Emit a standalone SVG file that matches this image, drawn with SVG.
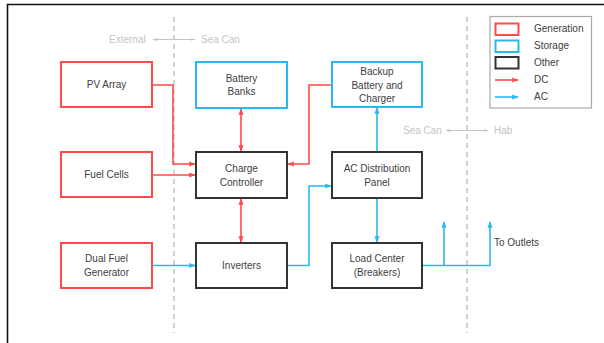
<svg xmlns="http://www.w3.org/2000/svg" width="604" height="343" viewBox="0 0 604 343">
<style>
text{font-family:"Liberation Sans",Arial,sans-serif;font-size:10px;fill:#404040;text-anchor:middle}
.gen{fill:#fff;stroke:#ff4a4a;stroke-width:2}
.sto{fill:#fff;stroke:#29b9ef;stroke-width:2}
.oth{fill:#fff;stroke:#333;stroke-width:2}
.dc{fill:none;stroke:#ff4a4a;stroke-width:1.6}
.ac{fill:none;stroke:#29b9ef;stroke-width:1.6}
.dash{stroke:#c4c4c4;stroke-width:1.5;stroke-dasharray:5,4}
.lbl{fill:#c4c4c4;text-anchor:start}
.garr{stroke:#c4c4c4;stroke-width:1}
</style>
<defs>
<marker id="mdc" viewBox="0 0 10 10" refX="9" refY="5" markerWidth="4" markerHeight="4" orient="auto-start-reverse"><path d="M0,1L10,5L0,9z" fill="#ff4a4a"/></marker>
<marker id="mac" viewBox="0 0 10 10" refX="9" refY="5" markerWidth="4" markerHeight="4" orient="auto-start-reverse"><path d="M0,1L10,5L0,9z" fill="#29b9ef"/></marker>
<marker id="mg" viewBox="0 0 10 10" refX="9" refY="5" markerWidth="5" markerHeight="5" orient="auto-start-reverse"><path d="M0,2L10,5L0,8z" fill="#c4c4c4"/></marker>
</defs>
<rect width="604" height="343" fill="#fff"/>
<path d="M7.5,343V4.5H604" fill="none" stroke="#111" stroke-width="1.6"/>
<g id="zones">
<line class="dash" x1="174" y1="17" x2="174" y2="333"/>
<line class="dash" x1="467" y1="17" x2="467" y2="333"/>
<text class="lbl" x="109" y="43">External</text>
<line class="garr" x1="153" y1="39.5" x2="195" y2="39.5" marker-start="url(#mg)" marker-end="url(#mg)"/>
<text class="lbl" x="201" y="43">Sea Can</text>
<text class="lbl" x="403" y="134">Sea Can</text>
<line class="garr" x1="446" y1="130.5" x2="488" y2="130.5" marker-start="url(#mg)" marker-end="url(#mg)"/>
<text class="lbl" x="494" y="134">Hab</text>
</g>
<g id="connectors">
<path class="dc" d="M152,85H173V164H195" marker-end="url(#mdc)"/>
<path class="dc" d="M152,175H195" marker-end="url(#mdc)"/>
<path class="dc" d="M332,85H309V164H288" marker-end="url(#mdc)"/>
<path class="dc" d="M241,109V151" marker-start="url(#mdc)" marker-end="url(#mdc)"/>
<path class="dc" d="M241,199V242" marker-start="url(#mdc)" marker-end="url(#mdc)"/>
<path class="ac" d="M152,265.5H195" marker-end="url(#mac)"/>
<path class="ac" d="M287,265.5H309V186H331" marker-end="url(#mac)"/>
<path class="ac" d="M377,198V242" marker-end="url(#mac)"/>
<path class="ac" d="M377,152V108" marker-end="url(#mac)"/>
<path class="ac" d="M422,265.5H490V222" marker-end="url(#mac)"/>
<path class="ac" d="M444,265.5V222" marker-end="url(#mac)"/>
</g>
<g id="pv"><rect class="gen" x="61" y="62" width="91" height="45"/><text x="106.5" y="88">PV Array</text></g>
<g id="fuelcells"><rect class="gen" x="61" y="152" width="91" height="45"/><text x="106.5" y="178">Fuel Cells</text></g>
<g id="generator"><rect class="gen" x="61" y="243" width="91" height="45"/><text x="106.5" y="262">Dual Fuel</text><text x="106.5" y="276">Generator</text></g>
<g id="batterybanks"><rect class="sto" x="196" y="62" width="91" height="46"/><text x="241.5" y="82">Battery</text><text x="241.5" y="95">Banks</text></g>
<g id="backup"><rect class="sto" x="332" y="62" width="90" height="45"/><text x="377" y="74.5">Backup</text><text x="377" y="88.5">Battery and</text><text x="377" y="101.5">Charger</text></g>
<g id="chargecontroller"><rect class="oth" x="196" y="152" width="91" height="46"/><text x="241.5" y="171.5">Charge</text><text x="241.5" y="185.5">Controller</text></g>
<g id="acpanel"><rect class="oth" x="332" y="152" width="90" height="46"/><text x="377" y="171.5">AC Distribution</text><text x="377" y="185.5">Panel</text></g>
<g id="inverters"><rect class="oth" x="196" y="243" width="91" height="45"/><text x="241.5" y="269">Inverters</text></g>
<g id="loadcenter"><rect class="oth" x="332" y="243" width="90" height="45"/><text x="377" y="262">Load Center</text><text x="377" y="276">(Breakers)</text></g>
<g id="outlets"><text x="494" y="246" style="text-anchor:start">To Outlets</text></g>
<g id="legend">
<rect x="490" y="16.5" width="101.5" height="91.5" fill="#fff" stroke="#aaa" stroke-width="1.2"/>
<rect class="gen" x="495.5" y="23.5" width="23" height="11.5"/>
<rect class="sto" x="495.5" y="40.5" width="23" height="11.5"/>
<rect class="oth" x="495.5" y="57" width="23" height="11.5"/>
<line class="dc" x1="495" y1="80" x2="518" y2="80" marker-end="url(#mdc)"/>
<line class="ac" x1="495" y1="97" x2="518" y2="97" marker-end="url(#mac)"/>
<text x="534" y="32" style="text-anchor:start">Generation</text>
<text x="534" y="49" style="text-anchor:start">Storage</text>
<text x="534" y="66" style="text-anchor:start">Other</text>
<text x="534" y="83" style="text-anchor:start">DC</text>
<text x="534" y="100" style="text-anchor:start">AC</text>
</g>
</svg>
